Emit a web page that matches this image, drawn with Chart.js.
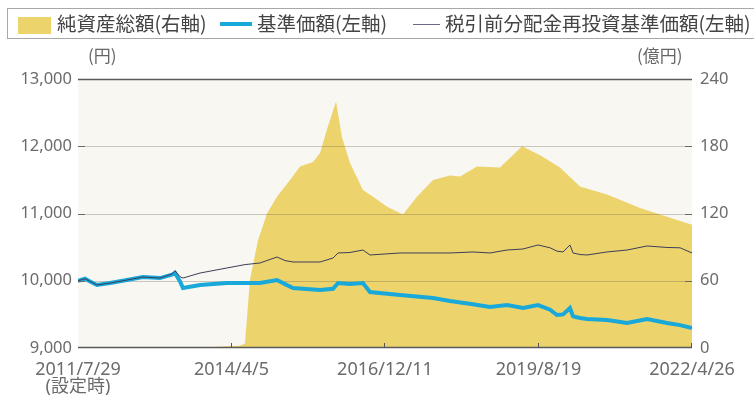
<!DOCTYPE html>
<html><head><meta charset="utf-8">
<script src="https://cdn.jsdelivr.net/npm/chart.js@4.4.1/dist/chart.umd.min.js"></script>
<style>
html,body{margin:0;padding:0;background:#fff;width:754px;height:402px;overflow:hidden;}
#wrap{position:relative;width:754px;height:402px;}
canvas{position:absolute;left:0;top:0;}
.t{position:absolute;font-family:"Noto Sans CJK JP","Noto Sans",sans-serif;color:#444;white-space:nowrap;line-height:1;}
#legend{position:absolute;left:7px;top:8px;width:748px;height:31px;border:1px solid #a8a8a8;box-sizing:border-box;}
.lg{font-size:19.5px;top:13px;}
.unit{font-size:17px;color:#666;top:46px;}
</style></head>
<body><div id="wrap">
<canvas id="c" width="754" height="402"></canvas>
<div id="legend"></div>
<div style="position:absolute;left:18px;top:17px;width:33px;height:17px;background:#ecd36c;"></div>
<div class="t lg" style="left:57px;">純資産総額(右軸)</div>
<div style="position:absolute;left:220px;top:22px;width:32px;height:4px;background:#19a8da;"></div>
<div class="t lg" style="left:257px;">基準価額(左軸)</div>
<div style="position:absolute;left:413px;top:24px;width:27px;height:1px;background:#6a6a88;"></div>
<div class="t lg" style="left:445px;">税引前分配金再投資基準価額(左軸)</div>
<div class="t unit" style="left:88px;">(円)</div>
<div class="t unit" style="left:637px;">(億円)</div>
</div>
<script>
// ---- data ----
const tickDates = ['2011/7/29','2014/4/5','2016/12/11','2019/8/19','2022/4/26'];
const tickLabels = [['2011/7/29','(設定時)'],'2014/4/5','2016/12/11','2019/8/19','2022/4/26'];

const assetDates = ['2011/7/29','2013/9/16','2013/12/14','2014/5/29','2014/6/30','2014/8/1','2014/9/21','2014/11/18','2015/1/21','2015/4/14','2015/6/17','2015/9/8','2015/10/23','2015/12/6','2016/2/2','2016/3/11','2016/5/1','2016/7/23','2016/9/25','2016/12/24','2017/4/5','2017/7/3','2017/10/14','2018/1/30','2018/4/4','2018/7/22','2018/12/16','2019/5/6','2019/8/29','2020/1/3','2020/5/10','2020/10/30','2021/5/29','2021/11/17','2022/4/26'];
const assetValues = [0,0,1,2,4,61,96,120,135,150,162,166,174,195,220,188,165,141,135,126,119,135,150,154,153,162,161,180,172,161,144,137,125,117,110];

const lineDates = ['2011/7/29','2011/9/12','2011/10/14','2011/11/27','2012/2/19','2012/6/6','2012/9/16','2013/1/3','2013/3/21','2013/4/9','2013/5/11','2013/5/30','2013/9/16','2014/3/7','2014/6/30','2014/10/4','2015/1/21','2015/3/13','2015/5/3','2015/10/23','2016/1/14','2016/2/15','2016/5/1','2016/7/23','2016/9/6','2017/3/17','2017/10/14','2018/1/30','2018/6/26','2018/10/13','2019/1/30','2019/5/12','2019/8/16','2019/11/1','2019/12/15','2020/1/23','2020/3/7','2020/3/27','2020/5/10','2020/6/24','2020/10/30','2021/3/7','2021/7/13','2021/11/17','2022/2/9','2022/4/26'];
const navValues = [10000,10030,9990,9937,9966,10011,10055,10040,10090,10115,9990,9892,9937,9966,9966,9966,10011,9950,9892,9862,9880,9966,9950,9966,9833,9788,9743,9700,9650,9610,9639,9595,9639,9570,9491,9500,9595,9470,9446,9430,9416,9372,9431,9372,9340,9297];
const reinvValues = [10000,10030,9990,9937,9966,10011,10055,10040,10100,10150,10060,10040,10115,10190,10240,10264,10353,10300,10279,10279,10338,10413,10420,10457,10383,10413,10413,10413,10428,10413,10457,10472,10532,10490,10440,10428,10532,10413,10390,10383,10428,10457,10517,10495,10490,10413];

const leftTicks = {min:9000, max:13000, step:1000};
const rightTicks = {min:0, max:240, step:60};

// ---- helpers ----
function dayNum(s){const [y,m,d]=s.split('/').map(Number);return Date.UTC(y,m-1,d)/86400000;}
const origin = dayNum(tickDates[0]);
const dx = s => dayNum(s)-origin;
const tickDays = tickDates.map(dx);
const pts = (dates, vals) => dates.map((d,i)=>({x:dx(d), y:vals[i]}));

const tickFontX = {family:'"Noto Sans","Noto Sans CJK JP",sans-serif', size:18, lineHeight:0.95};
const tickFontY = {family:'"Noto Sans","Noto Sans CJK JP",sans-serif', size:16.5};

function hline(ctx,x1,x2,y){ctx.beginPath();ctx.moveTo(x1,y);ctx.lineTo(x2,y);ctx.stroke();}
function vline(ctx,x,y1,y2){ctx.beginPath();ctx.moveTo(x,y1);ctx.lineTo(x,y2);ctx.stroke();}

const deco = {
  id:'deco',
  beforeDraw(c){
    const {ctx, chartArea:a} = c;
    ctx.save(); ctx.fillStyle='#f8f7f1';
    ctx.fillRect(a.left,a.top,a.right-a.left,a.bottom-a.top); ctx.restore();
  },
  afterDatasetDraw(c,args){
    if(args.index!==0) return;
    const {ctx, chartArea:a, scales} = c; const y = scales.y;
    ctx.save(); ctx.lineWidth=1; ctx.strokeStyle='rgba(110,100,80,0.33)';
    y.ticks.forEach(t=>{
      if(t.value===y.max||t.value===y.min) return;
      hline(ctx,a.left,a.right,Math.round(y.getPixelForValue(t.value))+0.5);
    });
    ctx.restore();
  },
  afterDatasetsDraw(c){
    const {ctx, chartArea:a, scales} = c; const y=scales.y, y1=scales.y1, x=scales.x;
    ctx.save();
    ctx.strokeStyle='#5a5a5a'; ctx.lineWidth=1.5;
    hline(ctx,a.left,a.right,Math.round(y.getPixelForValue(y.max))+0.5);
    hline(ctx,a.left,a.right,Math.round(y.getPixelForValue(y.min))-0.5);
    ctx.lineWidth=1; ctx.strokeStyle='#6a6a6a';
    y.ticks.forEach(t=>{ if(t.value===y.max||t.value===y.min) return;
      hline(ctx,a.left,a.left+7,Math.round(y.getPixelForValue(t.value))+0.5);});
    y1.ticks.forEach(t=>{ if(t.value===y1.max||t.value===y1.min) return;
      hline(ctx,a.right-7,a.right,Math.round(y1.getPixelForValue(t.value))+0.5);});
    ctx.strokeStyle='#555';
    x.ticks.forEach(t=>{ if(t.value===x.min) return;
      vline(ctx,Math.round(x.getPixelForValue(t.value))-0.5,a.bottom,a.bottom-5);});
    ctx.restore();
  }
};

new Chart(document.getElementById('c'),{
  data:{datasets:[
    {type:'line', label:'純資産総額(右軸)', data:pts(assetDates,assetValues), yAxisID:'y1',
     fill:'origin', backgroundColor:'#ecd36c', borderWidth:0, pointRadius:0, tension:0, order:3},
    {type:'line', label:'基準価額(左軸)', data:pts(lineDates,navValues), yAxisID:'y',
     borderColor:'#19a8da', borderWidth:4, pointRadius:0, tension:0, fill:false, order:2},
    {type:'line', label:'税引前分配金再投資基準価額(左軸)', data:pts(lineDates,reinvValues), yAxisID:'y',
     borderColor:'#3e3e5a', borderWidth:1, pointRadius:0, tension:0, fill:false, order:1}
  ]},
  options:{
    responsive:false, animation:false, devicePixelRatio:1,
    layout:{padding:{top:79,left:0,right:0,bottom:0}},
    plugins:{legend:{display:false}, tooltip:{enabled:false}},
    scales:{
      x:{type:'linear', min:0, max:tickDays[tickDays.length-1],
         grid:{display:false}, border:{display:false},
         afterBuildTicks:s=>{s.ticks=tickDays.map(v=>({value:v}));},
         afterFit:s=>{s.height=54;},
         ticks:{autoSkip:false, maxRotation:0, padding:5, color:'#6b6b6b', font:tickFontX,
                callback:(v,i)=>tickLabels[i]}},
      y:{position:'left', min:leftTicks.min, max:leftTicks.max,
         grid:{display:false, drawTicks:false}, border:{display:false},
         afterFit:s=>{s.width=78;},
         ticks:{stepSize:leftTicks.step, padding:6, color:'#6b6b6b', font:tickFontY,
                callback:v=>v.toLocaleString('en-US')}},
      y1:{position:'right', min:rightTicks.min, max:rightTicks.max,
         grid:{display:false, drawTicks:false}, border:{display:false},
         afterFit:s=>{s.width=62;},
         ticks:{stepSize:rightTicks.step, padding:8, color:'#6b6b6b', font:tickFontY}}
    }
  },
  plugins:[deco]
});
</script>
</body></html>
